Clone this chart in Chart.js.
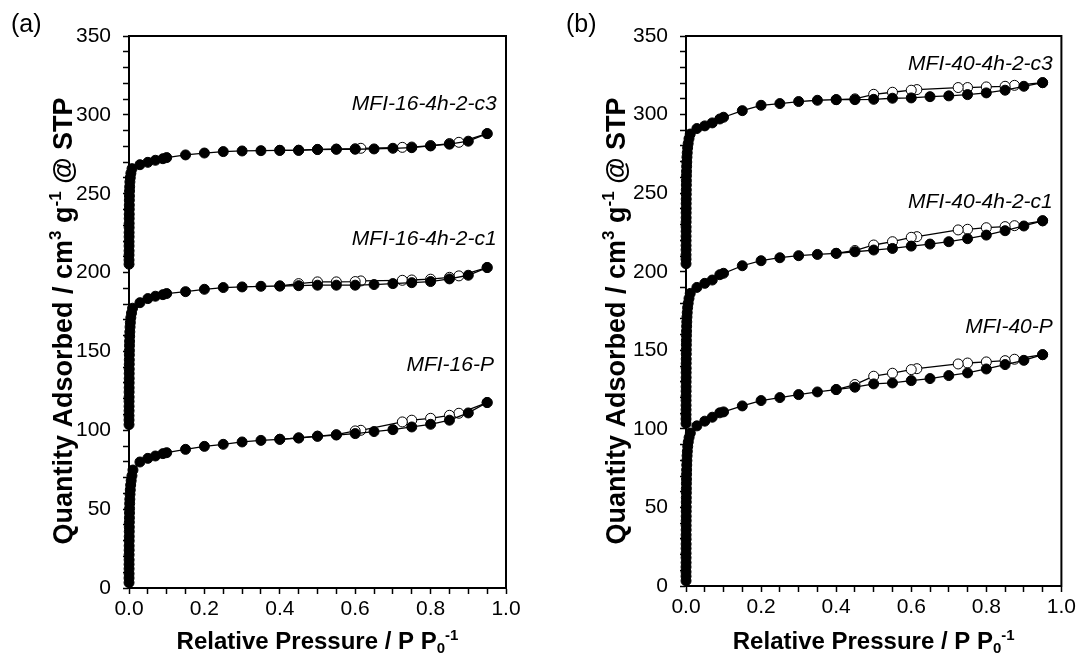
<!DOCTYPE html>
<html>
<head>
<meta charset="utf-8">
<script src="https://cdn.jsdelivr.net/npm/chart.js@4"></script>
<style>
  html, body { margin: 0; padding: 0; background: #fff; }
  #wrap { position: relative; width: 1079px; height: 662px; overflow: hidden; }
  #ca { position: absolute; left: 0; top: 0; }
  #cb { position: absolute; left: 540px; top: 0; }
</style>
</head>
<body>
<div id="wrap">
  <canvas id="ca" width="540" height="662"></canvas>
  <canvas id="cb" width="539" height="662"></canvas>
</div>
<script>
// ---------- data ----------
// relative pressure of the adsorption points after the micropore step
const relP = [0.029,0.05,0.07,0.09,0.10,0.15,0.20,0.25,0.30,0.35,0.40,0.45,0.50,0.55,0.60,0.65,0.70,0.75,0.80,0.85,0.90,0.95];
// relative pressure of the desorption points
const desP = [0.95,0.875,0.85,0.80,0.75,0.725,0.615,0.60,0.55,0.50,0.45,0.40];

// panel (a) — MFI-16 samples
const a_P_lowX  = [0.0001,0.0001,0.0002,0.0002,0.0002,0.0003,0.0003,0.0004,0.0004,0.0005,0.0006,0.0007,0.0008,0.0009,0.0011,0.0013,0.0015,0.0018,0.0022,0.0027,0.0034,0.0044,0.0058,0.0078,0.0105];
const a_P_lowY  = [3.4,6.3,9.1,12.2,15.0,17.9,21.1,24.0,26.8,29.9,32.7,35.8,38.6,41.7,44.5,47.6,50.4,53.5,56.3,59.4,62.2,65.3,68.1,71.2,74.8];
const a_P_ads   = [79.9,82.2,83.7,85.2,85.8,87.9,89.8,91.1,92.6,93.6,94.3,95.1,96.2,97.0,97.9,99.2,100.4,102.1,103.8,106.4,111.0,117.6];
const a_P_des   = [117.6,110.8,109.5,107.6,106.4,105.3,100.0,99.6,97.2,96.3,95.2,94.3];

const a_c1_lowX = [0.0001,0.0001,0.0001,0.0002,0.0002,0.0002,0.0003,0.0003,0.0004,0.0004,0.0005,0.0005,0.0006,0.0007,0.0008,0.0009,0.0011,0.0013,0.0015,0.0018,0.0022,0.0028,0.0036,0.0048,0.0066,0.0095];
const a_c1_lowY = [103.6,106.5,109.3,112.4,115.2,118.3,121.1,124.2,127.0,130.1,132.9,136.0,138.8,141.9,144.7,147.8,150.6,153.7,156.5,159.6,162.4,165.5,168.3,171.4,174.3,177.4];
const a_c1_ads  = [180.9,183.5,185.0,186.0,186.7,187.9,189.4,190.5,190.9,191.3,191.5,191.7,192.0,192.0,192.0,192.4,193.0,193.6,194.3,196.0,198.3,203.2];
const a_c1_des  = [203.2,197.9,197.0,195.8,195.3,195.1,194.7,194.3,194.1,194.1,193.0,191.5];

const a_c3_lowX = [0.0001,0.0001,0.0001,0.0002,0.0002,0.0002,0.0003,0.0003,0.0004,0.0004,0.0005,0.0006,0.0007,0.0008,0.0009,0.0011,0.0014,0.0018,0.0024,0.0034,0.005,0.008];
const a_c3_lowY = [205.3,208.0,211.1,213.8,216.9,219.6,222.7,225.4,228.5,231.2,234.3,237.0,240.1,242.8,245.9,248.6,251.7,254.4,257.5,260.2,263.0,265.9];
const a_c3_ads  = [268.4,269.9,271.2,272.2,272.9,274.6,275.8,276.7,277.1,277.3,277.5,277.5,278.0,278.2,278.2,278.4,278.8,279.2,280.3,281.4,283.3,288.1];
const a_c3_des  = [288.1,282.6,281.8,280.5,279.6,279.4,278.8,278.5,278.3,278.1,277.6,277.5];

// panel (b) — MFI-40 samples
const b_P_lowX  = [0.0001,0.0001,0.0001,0.0001,0.0002,0.0002,0.0002,0.0002,0.0003,0.0003,0.0003,0.0004,0.0004,0.0005,0.0005,0.0006,0.0006,0.0007,0.0008,0.0009,0.001,0.0011,0.0013,0.0015,0.0017,0.002,0.0024,0.0029,0.0036,0.0046,0.006,0.0082,0.0115];
const b_P_lowY  = [3.3,6.2,9.0,12.1,14.9,18.0,20.8,23.9,26.7,29.8,32.6,35.7,38.5,41.6,44.4,47.5,50.3,53.4,56.2,59.3,62.1,65.2,68.0,71.1,73.9,77.0,79.8,82.9,85.7,88.8,91.6,94.5,97.3];
const b_P_ads   = [101.9,104.9,107.4,110.2,110.8,114.6,118.0,119.9,121.8,123.5,125.0,126.5,128.6,129.2,130.7,132.0,133.9,135.6,138.1,140.9,143.6,147.2];
const b_P_des   = [147.2,144.3,143.4,142.6,141.9,141.3,138.3,137.7,135.4,133.5,128.2,125.0];

const b_c1_lowX = [0.0001,0.0001,0.0001,0.0002,0.0002,0.0002,0.0002,0.0003,0.0003,0.0003,0.0004,0.0004,0.0005,0.0005,0.0006,0.0007,0.0008,0.0009,0.001,0.0012,0.0014,0.0017,0.0021,0.0026,0.0033,0.0043,0.0058,0.008,0.0112];
const b_c1_lowY = [103.4,106.3,109.1,112.2,115.0,118.1,120.9,124.0,126.8,129.9,132.7,135.8,138.6,141.7,144.5,147.6,150.4,153.5,156.3,159.4,162.2,165.3,168.1,171.2,174.0,177.1,179.9,183.0,186.2];
const b_c1_ads  = [190.0,192.6,194.7,198.1,199.0,203.8,207.0,208.9,210.2,211.0,211.7,212.7,213.8,214.8,216.3,217.6,219.1,221.0,223.3,226.1,229.1,232.4];
const b_c1_des  = [232.4,229.3,228.7,228.0,227.0,226.6,222.3,221.9,219.1,217.0,213.5,211.7];

const b_c3_lowX = [0.0001,0.0001,0.0001,0.0002,0.0002,0.0002,0.0002,0.0003,0.0003,0.0003,0.0004,0.0004,0.0005,0.0005,0.0006,0.0007,0.0008,0.0009,0.001,0.0012,0.0014,0.0017,0.0021,0.0026,0.0033,0.0043,0.0058,0.008,0.0112];
const b_c3_lowY = [205.1,208.0,210.8,213.9,216.7,219.8,222.6,225.7,228.5,231.6,234.4,237.5,240.3,243.4,246.2,249.3,252.1,255.2,258.0,261.1,263.9,267.0,269.8,272.9,275.7,278.8,281.6,284.7,287.6];
const b_c3_ads  = [291.1,292.8,294.7,297.2,298.3,302.5,305.9,307.0,308.3,309.1,309.5,309.5,309.7,310.4,310.6,311.4,311.9,312.7,313.8,315.5,318.0,320.3];
const b_c3_des  = [320.3,318.6,318.0,317.6,317.2,317.2,315.9,315.5,314.2,312.9,310.0,309.5];

// sample names and the data point where each name's right edge / middle sits
const a_names = ['MFI-16-4h-2-c3','MFI-16-4h-2-c1','MFI-16-P'];
const a_nameAt = [[0.975,307],[0.975,221],[0.968,141]];
const b_names = ['MFI-40-4h-2-c3','MFI-40-4h-2-c1','MFI-40-P'];
const b_nameAt = [[0.977,332],[0.977,244.5],[0.977,164.5]];

// axis titles as rich text runs (n = normal, sup = superscript, sub = subscript)
const yTitleRuns = [['n','Quantity Adsorbed / cm'],['sup','3'],['n',' g'],['sup','-1'],['n',' @ STP']];
const xTitleRuns = [['n','Relative Pressure / P P'],['sub','0'],['sup','-1']];

// ---------- helpers ----------
const FONT = "'Liberation Sans', Arial, Helvetica, sans-serif";

function pts(xs, ys) { return xs.map((x, i) => ({x: x, y: ys[i]})); }

function adsSet(lowX, lowY, ads) {
  return {
    data: pts(lowX, lowY).concat(pts(relP, ads)),
    borderColor: '#000', borderWidth: 1.3,
    pointRadius: 5, pointBorderWidth: 1, pointBackgroundColor: '#000', pointBorderColor: '#000',
    clip: false, order: 0, tension: 0
  };
}
function desSet(des) {
  return {
    data: pts(desP, des),
    borderColor: '#000', borderWidth: 1.3,
    pointRadius: 5, pointBorderWidth: 1, pointBackgroundColor: '#fff', pointBorderColor: '#000',
    clip: false, order: 1, tension: 0
  };
}

function runsWidth(ctx, runs, size) {
  let w = 0;
  runs.forEach(([k, t]) => {
    ctx.font = 'bold ' + (k === 'n' ? size : Math.round(size * 0.62)) + 'px ' + FONT;
    w += ctx.measureText(t).width;
  });
  return w;
}
function drawRuns(ctx, runs, size, cx, cy, rot) {
  ctx.save();
  ctx.translate(cx, cy);
  ctx.rotate(rot);
  ctx.textBaseline = 'alphabetic';
  ctx.textAlign = 'left';
  ctx.fillStyle = '#000';
  const w = runsWidth(ctx, runs, size);
  let x = -w / 2;
  const base = size * 0.36;
  runs.forEach(([k, t]) => {
    const s = k === 'n' ? size : Math.round(size * 0.62);
    ctx.font = 'bold ' + s + 'px ' + FONT;
    let dy = 0;
    if (k === 'sup') dy = -size * 0.38;
    if (k === 'sub') dy = size * 0.2;
    ctx.fillText(t, x, base + dy);
    x += ctx.measureText(t).width;
  });
  ctx.restore();
}

const framePlugin = {
  id: 'frame',
  afterDraw(chart) {
    const {ctx, chartArea: a} = chart;
    const o = chart.options.plugins.frame;
    ctx.save();
    ctx.strokeStyle = '#000';
    ctx.lineWidth = 2;
    ctx.strokeRect(a.left, a.top, a.right - a.left, a.bottom - a.top);
    // sample names
    ctx.fillStyle = '#000';
    ctx.font = 'italic 21px ' + FONT;
    ctx.textAlign = 'right';
    ctx.textBaseline = 'middle';
    const xs = chart.scales.x, ys = chart.scales.y;
    o.names.forEach((n, i) => {
      ctx.fillText(n, xs.getPixelForValue(o.at[i][0]), ys.getPixelForValue(o.at[i][1]));
    });
    // panel letter
    ctx.font = '25px ' + FONT;
    ctx.textAlign = 'left';
    ctx.fillText(o.letter, o.letterX, 25);
    ctx.restore();
    // axis titles
    drawRuns(ctx, xTitleRuns, 24, (a.left + a.right) / 2, 640, 0);
    drawRuns(ctx, yTitleRuns, 27, o.yTitleX, 321, -Math.PI / 2);
  }
};

function makeChart(id, sets, names, at, letter, letterX, yWidth, xHeight, padRight, yTitleX) {
  return new Chart(document.getElementById(id), {
    type: 'line',
    data: { datasets: sets },
    plugins: [framePlugin],
    options: {
      responsive: false,
      animation: false,
      devicePixelRatio: 1,
      layout: { padding: { left: 0, top: 36, right: padRight, bottom: 0 } },
      plugins: {
        legend: { display: false },
        tooltip: { enabled: false },
        frame: { names: names, at: at, letter: letter, letterX: letterX, yTitleX: yTitleX }
      },
      scales: {
        x: {
          type: 'linear', min: 0, max: 1,
          border: { color: '#000', width: 2 },
          grid: { drawOnChartArea: false, drawTicks: true, tickLength: 6, tickColor: '#000', tickWidth: 1.5 },
          ticks: {
            stepSize: 0.05, autoSkip: false, maxRotation: 0, maxTicksLimit: 100,
            color: '#000', font: { family: FONT, size: 21 }, padding: 3,
            callback: (v) => (Math.round(v * 100) % 20 === 0 ? Number(v).toFixed(1) : '')
          },
          title: { display: false },
          afterFit: (s) => { s.height = xHeight; }
        },
        y: {
          type: 'linear', min: 0, max: 350,
          border: { color: '#000', width: 2 },
          grid: { drawOnChartArea: false, drawTicks: true, tickLength: 6, tickColor: '#000', tickWidth: 1.5 },
          ticks: {
            stepSize: 10, autoSkip: false, maxTicksLimit: 100,
            color: '#000', font: { family: FONT, size: 21 }, padding: 12,
            callback: (v) => (Math.round(v) % 50 === 0 ? String(Math.round(v)) : '')
          },
          title: { display: false },
          afterFit: (s) => { s.width = yWidth; }
        }
      }
    }
  });
}

makeChart('ca', [
  adsSet(a_c3_lowX, a_c3_lowY, a_c3_ads), desSet(a_c3_des),
  adsSet(a_c1_lowX, a_c1_lowY, a_c1_ads), desSet(a_c1_des),
  adsSet(a_P_lowX, a_P_lowY, a_P_ads), desSet(a_P_des)
], a_names, a_nameAt, '(a)', 11, 129, 74, 34, 62);

makeChart('cb', [
  adsSet(b_c3_lowX, b_c3_lowY, b_c3_ads), desSet(b_c3_des),
  adsSet(b_c1_lowX, b_c1_lowY, b_c1_ads), desSet(b_c1_des),
  adsSet(b_P_lowX, b_P_lowY, b_P_ads), desSet(b_P_des)
], b_names, b_nameAt, '(b)', 26, 146, 76, 16, 75);
</script>
</body>
</html>
